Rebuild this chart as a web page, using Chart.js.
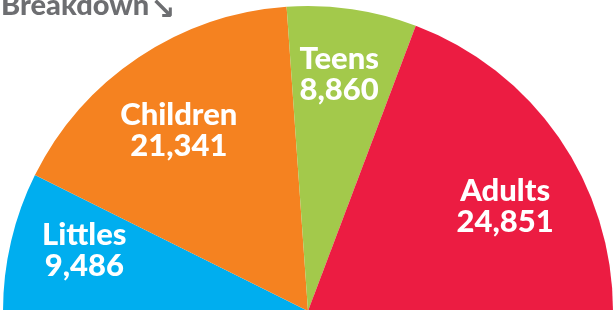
<!DOCTYPE html>
<html lang="en">
<head>
    <meta charset="UTF-8">
    <title>Breakdown</title>
    <script src="https://cdn.jsdelivr.net/npm/chart.js"></script>
    <style>
        html, body { margin: 0; padding: 0; overflow: hidden; background: #fff; }
        #wrap { position: relative; width: 613px; height: 320px; }
    </style>
</head>
<body>
    <div id="wrap"><canvas id="chartCanvas" width="613" height="320"></canvas></div>

    <script>
        const categories = ['Littles', 'Children', 'Teens', 'Adults'];
        const counts = [9486, 21341, 8860, 24851];
        const sliceColors = ['#00aeef', '#f58220', '#a3c94b', '#ec1c42'];
        const title = 'Breakdown';

        // nudges for the in-slice labels (px)
        const labelNudge = [[-1, -9], [-2, 9], [-2, -11], [9, 25]];

        const sliceLabels = {
            id: 'sliceLabels',
            afterDatasetsDraw(chart) {
                const c = chart.ctx;
                const meta = chart.getDatasetMeta(0);
                c.save();
                c.fillStyle = '#fff';
                c.textAlign = 'center';
                c.textBaseline = 'alphabetic';
                c.font = '900 31px Lato';
                meta.data.forEach((arc, i) => {
                    const mid = (arc.startAngle + arc.endAngle) / 2;
                    const r = arc.outerRadius * 0.75;
                    const x = arc.x + Math.cos(mid) * r + labelNudge[i][0];
                    const y = arc.y + Math.sin(mid) * r + labelNudge[i][1];
                    c.fillText(categories[i], x, y - 5);
                    c.fillText(counts[i].toLocaleString('en-US'), x, y + 26);
                });
                // title, cut off at the top like the source
                c.textAlign = 'left';
                c.fillStyle = '#6d6e71';
                c.font = '900 29px Lato';
                c.fillText(title, 1, 15);
                const w = c.measureText(title).width;
                c.font = 'bold 30px "DejaVu Sans"';
                c.fillText('\u2198', w + 2, 19);
                c.restore();
            }
        };

        const ctx = document.getElementById('chartCanvas').getContext('2d');
        const chart = new Chart(ctx, {
            type: 'pie',
            data: {
                labels: categories,
                datasets: [{
                    data: counts,
                    backgroundColor: sliceColors,
                    borderWidth: 0
                }]
            },
            options: {
                responsive: false,
                animation: false,
                rotation: -90,
                circumference: 180,
                layout: { padding: { left: 3, right: 0, top: 6, bottom: 9 } },
                plugins: {
                    legend: { display: false },
                    tooltip: { enabled: false }
                }
            },
            plugins: [sliceLabels]
        });
    </script>
</body>
</html>
